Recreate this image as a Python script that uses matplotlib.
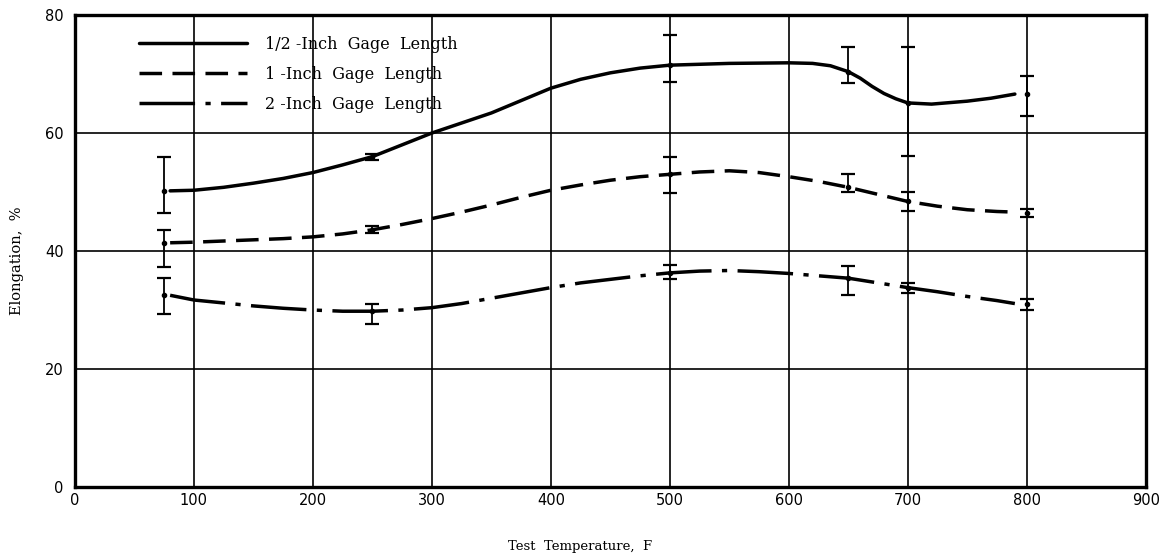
import matplotlib.pyplot as plt

# smoothed curves (temperature F, elongation %)
half_x = [80, 100, 125, 150, 175, 200, 225, 250, 275, 300, 325, 350, 375, 400, 425, 450, 475, 500,
          550, 600, 620, 635, 650, 660, 670, 680, 690, 700, 720, 750, 770, 790]
half_y = [50.2, 50.3, 50.8, 51.5, 52.3, 53.3, 54.6, 56.0, 58.0, 60.0, 61.7, 63.4, 65.5, 67.6, 69.1, 70.2, 71.0, 71.5,
          71.8, 71.9, 71.8, 71.4, 70.4, 69.3, 67.9, 66.7, 65.8, 65.1, 64.9, 65.4, 65.9, 66.6]

one_x = [80, 100, 125, 150, 175, 200, 225, 250, 275, 300, 325, 350, 375, 400, 425, 450, 475, 500,
         525, 550, 575, 600, 625, 650, 675, 700, 725, 750, 775, 790]
one_y = [41.4, 41.5, 41.7, 41.9, 42.1, 42.4, 42.9, 43.6, 44.5, 45.5, 46.6, 47.8, 49.1, 50.3, 51.2, 52.0, 52.6, 53.0,
         53.4, 53.6, 53.3, 52.6, 51.8, 50.8, 49.6, 48.4, 47.6, 47.0, 46.7, 46.6]

two_x = [80, 100, 125, 150, 175, 200, 225, 250, 275, 300, 325, 350, 375, 400, 425, 450, 475, 500,
         525, 550, 575, 600, 625, 650, 675, 700, 725, 750, 775, 790]
two_y = [32.5, 31.7, 31.2, 30.7, 30.3, 30.0, 29.8, 29.8, 30.0, 30.4, 31.1, 32.0, 32.9, 33.8, 34.6, 35.2, 35.8, 36.3,
         36.6, 36.7, 36.5, 36.2, 35.8, 35.4, 34.6, 33.8, 33.1, 32.3, 31.6, 31.1]

# measured points with scatter range
temps = [75, 250, 500, 650, 700, 800]
half_pt = [50.2, 56.0, 71.5, 70.4, 65.1, 66.6]
half_lo = [46.5, 55.5, 68.7, 68.4, 56.1, 62.9]
half_hi = [56.0, 56.5, 76.6, 74.5, 74.6, 69.7]
one_pt = [41.4, 43.6, 53.0, 50.8, 48.4, 46.5]
one_lo = [37.3, 43.0, 49.9, 50.0, 46.8, 45.8]
one_hi = [43.6, 44.3, 56.0, 53.0, 50.0, 47.2]
two_pt = [32.5, 29.8, 36.3, 35.4, 33.8, 31.0]
two_lo = [29.4, 27.6, 35.3, 32.5, 32.9, 30.0]
two_hi = [35.5, 31.0, 37.6, 37.5, 34.6, 31.9]

labels = ["1/2 -Inch  Gage  Length", "1 -Inch  Gage  Length", "2 -Inch  Gage  Length"]

fig = plt.figure(figsize=(11.62, 5.56), dpi=100)
ax = fig.add_axes([0.0645, 0.124, 0.9215, 0.849])

lw = 2.5
ax.plot(half_x, half_y, color="black", lw=lw, solid_capstyle="round", solid_joinstyle="round", label=labels[0])
ax.plot(one_x, one_y, color="black", lw=lw, dashes=(6.5, 3), label=labels[1])
ax.plot(two_x, two_y, color="black", lw=lw, dashes=(16, 3, 1.5, 3), label=labels[2])

for pt, lo, hi in [(half_pt, half_lo, half_hi), (one_pt, one_lo, one_hi), (two_pt, two_lo, two_hi)]:
    err = [[p - l for p, l in zip(pt, lo)], [h - p for p, h in zip(pt, hi)]]
    ax.errorbar(temps, pt, yerr=err, fmt="o", ms=3, color="black",
                elinewidth=1.3, capsize=5, capthick=1.6)

ax.set_xlim(0, 900)
ax.set_ylim(0, 80)
ax.set_xticks(range(0, 901, 100))
ax.set_yticks(range(0, 81, 20))
ax.grid(True, color="black", lw=1.2)
ax.tick_params(length=0, labelsize=10.5)
ax.tick_params(axis="x", pad=4)
ax.tick_params(axis="y", pad=8)
for s in ax.spines.values():
    s.set_linewidth(2.4)

ax.set_xlabel("Test  Temperature,  F", family="DejaVu Serif", fontsize=9.5)
ax.xaxis.set_label_coords(0.4715, -0.113)
ax.set_ylabel("Elongation,  %", family="DejaVu Serif", fontsize=10.5)
ax.yaxis.set_label_coords(-0.0476, 0.48)

leg = ax.legend(loc="upper left", bbox_to_anchor=(0.046, 0.986), frameon=False,
                handlelength=6.8, handletextpad=1.1, labelspacing=0.8,
                prop={"family": "DejaVu Serif", "size": 11.5})

fig.savefig("out.png", dpi=100)
